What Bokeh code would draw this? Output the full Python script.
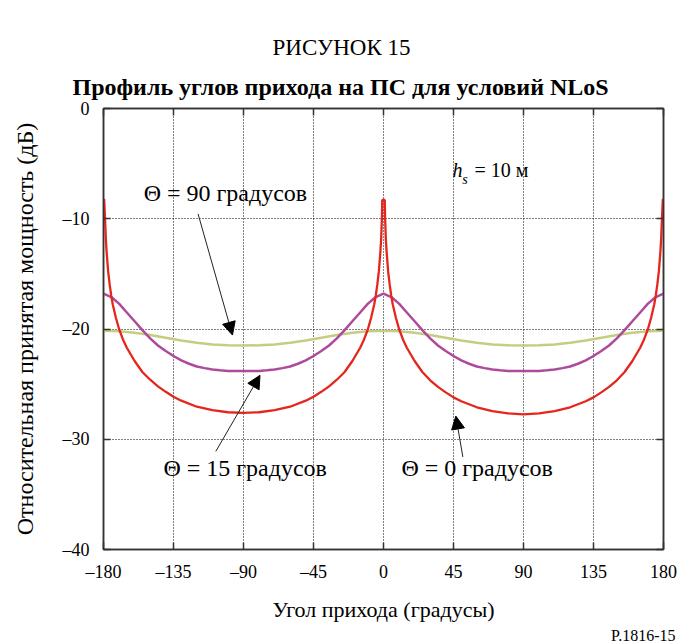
from bokeh.plotting import figure
from bokeh.models import Label, Arrow, NormalHead, LinearAxis, FixedTicker, Range1d, Title
from bokeh.embed import file_html
from bokeh.resources import INLINE

# ---- data ----
red_x = [-179.6, -179.0, -178.5, -178.0, -177.0, -176.0, -175.0, -174.0, -172.0, -170.0, -167.5,
         -165, -160, -155, -150, -145, -140, -135, -130, -120, -110, -100, -90, -80, -70, -60,
         -50, -45, -40, -35, -30, -25, -20, -15, -12.5, -10, -8, -6, -5, -4, -3, -2, -1.5, -1.0,
         -0.8, 0.8, 1.0, 1.5, 2, 3, 4, 5, 6, 8, 10, 12.5, 15, 20, 25, 30, 35, 40, 45, 50, 60, 70,
         80, 90, 100, 110, 120, 130, 135, 140, 145, 150, 155, 160, 165, 167.5, 170, 172, 174,
         175, 176, 177, 178, 178.5, 179, 179.6]
red_y = [-8.2, -10.0, -11.8, -13.0, -14.8, -16.0, -17.0, -17.8, -19.0, -20.0, -20.95,
         -21.7, -22.9, -23.9, -24.6, -25.2, -25.7, -26.15, -26.5, -27.05, -27.35, -27.55, -27.6,
         -27.55, -27.35, -27.05, -26.5, -26.15, -25.7, -25.2, -24.6, -23.9, -22.9, -21.7, -20.95,
         -20.0, -19.0, -17.8, -17.0, -16.0, -14.8, -13.0, -11.8, -9.8,
         -8.3, -8.3, -9.8, -11.8, -13.0, -14.8, -16.0, -17.0, -17.8, -19.0, -20.0, -20.95, -21.7,
         -22.9, -23.9, -24.65, -25.25, -25.75, -26.2, -26.55, -27.1, -27.45,
         -27.65, -27.75, -27.65, -27.45, -27.1, -26.55, -26.2, -25.75, -25.25, -24.65, -23.9,
         -22.9, -21.7, -20.95, -20.0, -19.0, -17.8, -17.0, -16.0, -14.8, -13.0, -11.8, -10.0, -8.2]

mag_x = [-180, -175, -170, -165, -160, -155, -150, -145, -140, -135, -130, -125, -120, -115,
         -110, -105, -100, -95, -90, -85, -80, -75, -70, -65, -60, -55, -50, -45, -40, -35, -30,
         -25, -20, -15, -10, -5, 0, 5, 10, 15, 20, 25, 30, 35, 40, 45, 50, 55, 60, 65, 70, 75,
         80, 85, 90, 95, 100, 105, 110, 115, 120, 125, 130, 135, 140, 145, 150, 155, 160, 165,
         170, 175, 180]
mag_y = [-16.8, -17.1, -17.7, -18.5, -19.3, -20.1, -20.85, -21.5, -22.0, -22.45, -22.85,
         -23.15, -23.4, -23.55, -23.68, -23.75, -23.8, -23.82, -23.82, -23.82, -23.8, -23.75,
         -23.68, -23.55, -23.4, -23.15, -22.85, -22.45, -22.0, -21.5, -20.85, -20.1, -19.3,
         -18.5, -17.7, -17.1, -16.8, -17.1, -17.7, -18.5, -19.3, -20.1, -20.85, -21.5, -22.0,
         -22.45, -22.85, -23.15, -23.4, -23.55, -23.68, -23.75, -23.8, -23.82, -23.82, -23.82,
         -23.8, -23.75, -23.68, -23.55, -23.4, -23.15, -22.85, -22.45, -22.0, -21.5, -20.85,
         -20.1, -19.3, -18.5, -17.7, -17.1, -16.8]

grn_x = [-180, -170, -160, -150, -140, -130, -120, -110, -100, -90, -80, -70, -60, -50, -40,
         -30, -20, -10, 0, 10, 20, 30, 40, 50, 60, 70, 80, 90, 100, 110, 120, 130, 140, 150, 160,
         170, 180]
grn_y = [-20.15, -20.2, -20.35, -20.55, -20.8, -21.05, -21.25, -21.4, -21.48, -21.5, -21.48,
         -21.4, -21.25, -21.05, -20.8, -20.55, -20.35, -20.2, -20.15, -20.2, -20.35, -20.55,
         -20.8, -21.05, -21.25, -21.4, -21.48, -21.5, -21.48, -21.4, -21.25, -21.05, -20.8,
         -20.55, -20.35, -20.2, -20.15]

x_ticks = [-180, -135, -90, -45, 0, 45, 90, 135, 180]
y_ticks = [-40, -30, -20, -10, 0]

FONT = "Liberation Serif"

def lab(v):
    return ("\u2013" + str(abs(v))) if v < 0 else str(v)

p = figure(width=677, height=643, output_backend="svg", toolbar_location=None,
           x_range=Range1d(-180, 180), y_range=Range1d(-40, 0),
           min_border_left=103, min_border_right=14, min_border_top=108, min_border_bottom=93)
p.outline_line_color = "#333333"
p.outline_line_width = 1.5
p.background_fill_color = "white"
p.border_fill_color = "white"

for ax, ticks in ((p.xaxis[0], x_ticks), (p.yaxis[0], y_ticks)):
    ax.ticker = FixedTicker(ticks=ticks)
    ax.major_label_overrides = {t: lab(t) for t in ticks}
    ax.major_tick_in = 7
    ax.major_tick_out = 0
    ax.minor_tick_line_color = None
    ax.axis_line_color = "#333333"
    ax.axis_line_width = 1.5
    ax.major_tick_line_color = "#333333"
    ax.major_tick_line_width = 1.5
    ax.major_label_text_font = FONT
    ax.major_label_text_font_size = "18px"
    ax.major_label_text_color = "black"
    ax.axis_label_text_font = FONT
    ax.axis_label_text_font_style = "normal"
    ax.axis_label_text_color = "black"

p.xaxis[0].axis_label = "Угол прихода (градусы)"
p.xaxis[0].axis_label_text_font_size = "22px"
p.xaxis[0].major_label_standoff = 12
p.xaxis[0].axis_label_standoff = 12
p.yaxis[0].axis_label = "Относительная принятая мощность (дБ)"
p.yaxis[0].axis_label_text_font_size = "24px"
p.yaxis[0].major_label_standoff = 14
p.yaxis[0].axis_label_standoff = 22

for loc, ticks in (("above", x_ticks), ("right", y_ticks)):
    ax = LinearAxis(ticker=FixedTicker(ticks=ticks), major_tick_in=7, major_tick_out=0,
                    minor_tick_line_color=None, axis_line_color="#333333", axis_line_width=1.5,
                    major_tick_line_color="#333333", major_tick_line_width=1.5,
                    major_label_text_font_size="0px", major_label_standoff=0)
    p.add_layout(ax, loc)

p.xgrid[0].ticker = FixedTicker(ticks=x_ticks)
p.ygrid[0].ticker = FixedTicker(ticks=y_ticks)
for g in (p.xgrid[0], p.ygrid[0]):
    g.grid_line_color = "black"
    g.grid_line_dash = "1 2"
    g.grid_line_width = 1

p.line(grn_x, grn_y, line_color="#C6CC80", line_width=2.5)
p.line(mag_x, mag_y, line_color="#AE4A9C", line_width=2.5)
p.line(red_x, red_y, line_color="#E4261C", line_width=2.3)

def text(x, y, s, size, style="normal", align="left", base="middle"):
    p.add_layout(Label(x=x, y=y, text=s, text_font=FONT, text_font_size=size,
                       text_font_style=style, text_align=align, text_baseline=base,
                       text_color="black"))

text(-154.2, -7.7, "Θ = 90 градусов", "24px")
text(-141.5, -32.6, "Θ = 15 градусов", "24px")
text(11.5, -32.6, "Θ = 0 градусов", "24px")
text(44.4, -5.6, "h", "20px", "italic")
text(50.6, -6.4, "s", "14px", "italic")
text(58.5, -5.6, "= 10 м", "20px")

p.add_layout(Title(text="Профиль углов прихода на ПС для условий NLoS", align="left", offset=-31,
                   text_font=FONT, text_font_size="24px", text_font_style="bold",
                   text_color="black", standoff=18), "above")
p.add_layout(Title(text="РИСУНОК 15", align="left", offset=169, text_font=FONT,
                   text_font_size="23px", text_font_style="normal", text_color="black",
                   standoff=6), "above")
p.add_layout(Title(text="P.1816-15", align="right", text_font=FONT, text_font_size="16px",
                   text_font_style="normal", text_color="black", offset=-12, standoff=0), "below")

for (xs, ys, xe, ye) in ((-119.2, -9.56, -97.1, -20.55), (-107.8, -31.1, -79.4, -24.2),
                         (51.0, -31.6, 46.5, -27.9)):
    p.add_layout(Arrow(end=NormalHead(size=13, fill_color="black", line_color="black"),
                       x_start=xs, y_start=ys, x_end=xe, y_end=ye,
                       line_color="#222222", line_width=1))

open("out.html", "w").write(file_html(p, INLINE))
